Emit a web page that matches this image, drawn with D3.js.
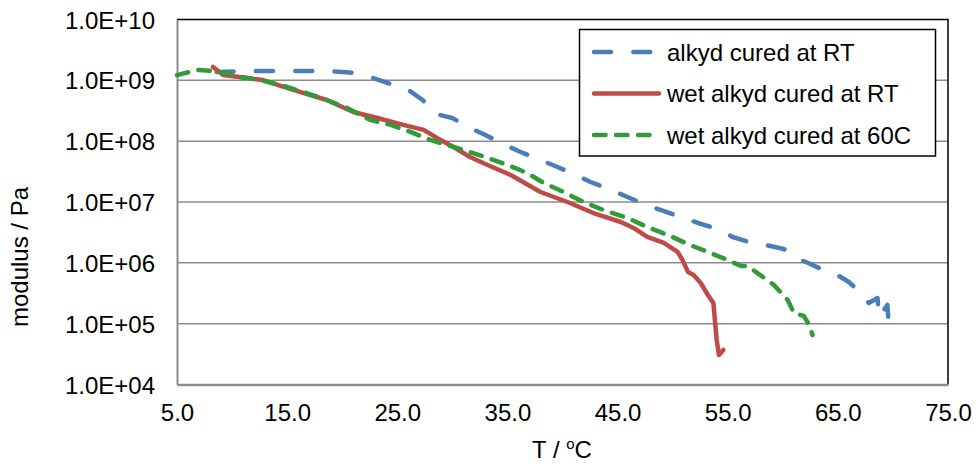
<!DOCTYPE html>
<html><head><meta charset="utf-8">
<script src="https://cdn.jsdelivr.net/npm/d3@7"></script>
<style>html,body{margin:0;padding:0;background:#fff;} svg text{font-family:"Liberation Sans",Arial,sans-serif;fill:#000;}</style>
</head><body><svg id="c" width="976" height="466"></svg>
<script>
const xTicks = [5, 15, 25, 35, 45, 55, 65, 75];
const yTicks = [1e4, 1e5, 1e6, 1e7, 1e8, 1e9, 1e10];
const yTickLabels = ["1.0E+04","1.0E+05","1.0E+06","1.0E+07","1.0E+08","1.0E+09","1.0E+10"];
const seriesNames = ["alkyd cured at RT", "wet alkyd cured at RT", "wet alkyd cured at 60C"];

const alkydRT_T = [8.6,10.7,13.2,16.5,19.0,20.7,22.5,24.1,26.0,27.3,28.5,30.0,31.6,33.0,34.8,36.2,38.0,39.55,41.2,42.55,44.4,45.9,47.55,48.9,50.7,52.3,54.1,55.45,56.9,58.45,60.1,61.0,62.3,63.3,64.8,66.0,67.1,67.8,68.6,68.75,69.5,69.6,70.1];
const alkydRT_G = [1.37e9,1.40e9,1.43e9,1.43e9,1.40e9,1.35e9,1.14e9,9.06e8,6.95e8,4.75e8,2.80e8,2.40e8,1.65e8,1.26e8,8.65e7,6.64e7,4.91e7,3.76e7,2.78e7,2.13e7,1.58e7,1.21e7,9.0e6,7.39e6,5.67e6,4.52e6,3.60e6,2.66e6,2.20e6,1.96e6,1.69e6,1.25e6,9.93e5,8.22e5,6.54e5,4.84e5,3.19e5,2.19e5,2.64e5,1.29e5,2.03e5,1.03e5,7.0e4];

const wetRT_T = [8.27,9.2,11.4,12.8,14.4,16.45,18.6,21.0,23.2,25.55,27.4,28.6,30.1,31.6,33.2,35.3,38.0,40.45,42.8,45.3,46.45,47.7,49.2,50.45,50.9,51.4,51.9,52.55,53.2,53.7,54.0,54.2,54.6];
const wetRT_G = [1.66e9,1.22e9,1.09e9,1.01e9,8.09e8,6.20e8,4.75e8,3.02e8,2.40e8,1.85e8,1.53e8,1.13e8,8.02e7,5.50e7,4.06e7,2.78e7,1.46e7,1.00e7,6.59e6,4.69e6,3.74e6,2.66e6,2.12e6,1.51e6,1.11e6,7.05e5,6.31e5,4.66e5,2.96e5,2.19e5,5.39e4,3.05e4,3.69e4];

const wet60_T = [5.0,6.8,8.0,9.55,10.7,12.55,14.4,16.45,18.6,20.45,22.55,24.4,26.2,28.0,29.8,31.6,33.2,35.0,36.8,38.3,40.1,41.9,43.7,45.9,47.7,49.55,51.6,53.45,55.0,56.2,56.8,57.7,59.2,60.45,61.0,61.9,62.4,62.7];
const wet60_G = [1.22e9,1.48e9,1.43e9,1.32e9,1.14e9,1.01e9,8.40e8,6.44e8,4.75e8,3.51e8,2.23e8,1.85e8,1.42e8,1.05e8,8.34e7,6.64e7,5.29e7,4.06e7,3.00e7,2.05e7,1.46e7,1.00e7,7.39e6,5.46e6,3.88e6,2.87e6,1.96e6,1.45e6,1.11e6,8.87e5,8.87e5,6.79e5,4.32e5,2.45e5,1.50e5,1.34e5,9.51e4,6.51e4];

const colors = ["#4A7EBB", "#BE4B48", "#339A3A"];
const dashes = ["17,22.3", null, "11.5,10.5"];

const svg = d3.select("#c");
const L = 177, R = 948, T = 19.5, B = 384.5;
const x = d3.scaleLinear().domain([5, 75]).range([L, R]);
const y = d3.scaleLog().domain([1e4, 1e10]).range([B, T]);

// gridlines
svg.append("g").selectAll("line").data(yTicks.slice(1, -1)).join("line")
  .attr("x1", L).attr("x2", R).attr("y1", d => y(d)).attr("y2", d => y(d))
  .attr("stroke", "#8c8c8c").attr("stroke-width", 1.5);

// plot border top/right
svg.append("path").attr("d", `M${L},${T}H${R}V${B}`).attr("fill", "none").attr("stroke", "#000").attr("stroke-width", 1.5);

// axes
const yAxis = d3.axisLeft(y).tickValues(yTicks).tickFormat((d, i) => yTickLabels[i]).tickSize(0).tickPadding(22);
const gy = svg.append("g").attr("transform", `translate(${L},0)`).call(yAxis);
gy.select(".domain").attr("stroke", "#8c8c8c").attr("stroke-width", 2);
gy.selectAll("text").attr("font-size", 24).attr("font-family", "Liberation Sans, Arial, sans-serif").attr("dy", "0.36em");

const xAxis = d3.axisBottom(x).tickValues(xTicks).tickFormat(d3.format(".1f")).tickSize(0).tickPadding(19);
const gx = svg.append("g").attr("transform", `translate(0,${B})`).call(xAxis);
gx.select(".domain").attr("stroke", "#8c8c8c").attr("stroke-width", 2.5);
gx.selectAll("text").attr("font-size", 24).attr("font-family", "Liberation Sans, Arial, sans-serif");

// series
const series = [
  {T: alkydRT_T, G: alkydRT_G},
  {T: wetRT_T, G: wetRT_G},
  {T: wet60_T, G: wet60_G}
];
const line = d3.line().x(d => x(d[0])).y(d => y(d[1])).curve(d3.curveLinear);
const plot = svg.append("g");
series.forEach((s, i) => {
  const pts = s.T.map((t, k) => [t, s.G[k]]);
  const p = plot.append("path").attr("d", line(pts)).attr("fill", "none")
    .attr("stroke", colors[i]).attr("stroke-width", 4.5)
    .attr("stroke-linecap", "round").attr("stroke-linejoin", "round");
  if (dashes[i]) p.attr("stroke-dasharray", dashes[i]);
});

// legend
const lg = svg.append("g");
lg.append("rect").attr("x", 579.5).attr("y", 29.5).attr("width", 356).attr("height", 126.5)
  .attr("fill", "#fff").attr("stroke", "#000").attr("stroke-width", 1.5);
const rowsY = [52, 93.5, 135];
seriesNames.forEach((n, i) => {
  const l = lg.append("line").attr("x1", 594).attr("x2", 659).attr("y1", rowsY[i]).attr("y2", rowsY[i])
    .attr("stroke", colors[i]).attr("stroke-width", 4.5).attr("stroke-linecap", "round");
  if (dashes[i]) l.attr("stroke-dasharray", dashes[i]);
  lg.append("text").attr("x", 667).attr("y", rowsY[i]).attr("dy", "0.36em").attr("font-size", 24).text(n);
});

// axis titles
svg.append("text").attr("transform", "translate(28,257) rotate(-90)").attr("text-anchor", "middle")
  .attr("font-size", 24).text("modulus / Pa");
const xt = svg.append("text").attr("x", 562).attr("y", 458).attr("text-anchor", "middle").attr("font-size", 24);
xt.append("tspan").text("T / ");
xt.append("tspan").attr("font-size", 15).attr("dy", -9).text("o");
xt.append("tspan").attr("dy", 9).text("C");
</script></body></html>
